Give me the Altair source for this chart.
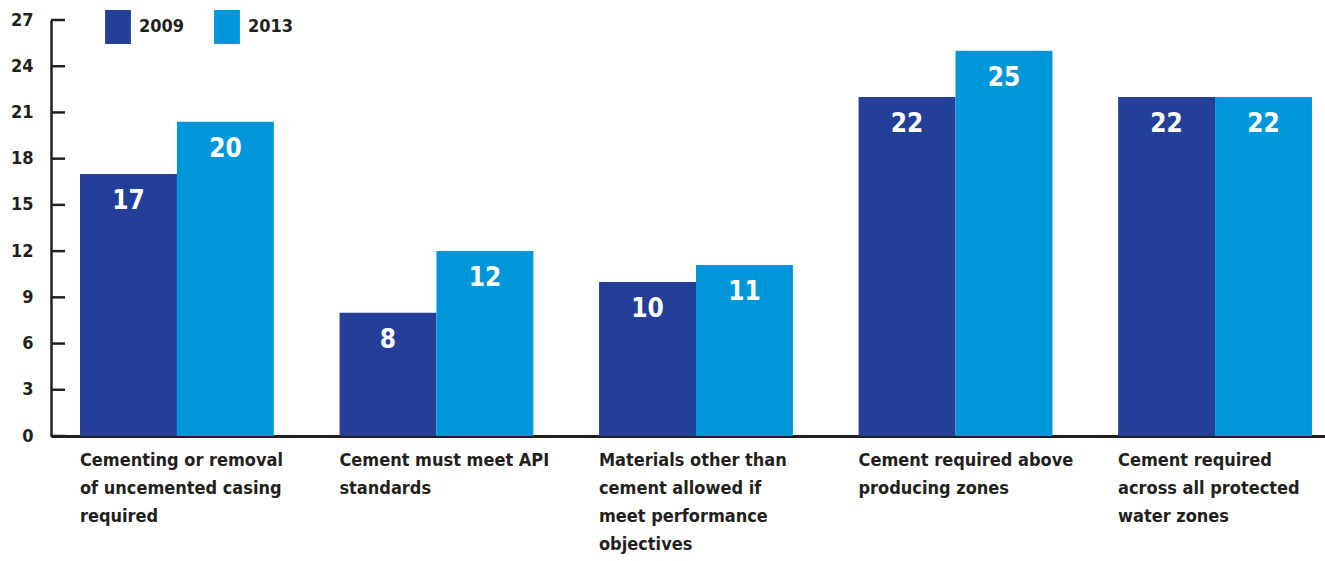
import altair as alt
import pandas as pd

categories = [
    "Cementing or removal|of uncemented casing|required",
    "Cement must meet API|standards",
    "Materials other than|cement allowed if|meet performance|objectives",
    "Cement required above|producing zones",
    "Cement required|across all protected|water zones",
]
years = ["2009", "2013"]
values_2009 = [17, 8, 10, 22, 22]
values_2013 = [20.4, 12, 11.1, 25, 22]
y_ticks = [0, 3, 6, 9, 12, 15, 18, 21, 24, 27]

rows = []
for c, a, b in zip(categories, values_2009, values_2013):
    rows.append({"category": c, "year": "2009", "value": a})
    rows.append({"category": c, "year": "2013", "value": b})
df = pd.DataFrame(rows)
ticks_df = pd.DataFrame({"t": y_ticks})

FONT = "DejaVu Sans Condensed, Liberation Sans Narrow, sans-serif"
DARK = "#231f20"

x_scale = alt.Scale(paddingInner=0.253, paddingOuter=0.081, align=0.69)
y_scale = alt.Scale(domain=[0, 27], nice=False)

x_enc = alt.X(
    "category:N",
    sort=categories,
    title=None,
    scale=x_scale,
    axis=alt.Axis(
        labelAngle=0,
        labelAlign="left",
        labelBaseline="top",
        labelOffset=-97,
        labelPadding=15,
        labelLineHeight=28,
        labelExpr="split(datum.label, '|')",
        labelFont=FONT,
        labelFontSize=18,
        labelFontWeight="bold",
        labelColor=DARK,
        labelLimit=400,
        labelOverlap=False,
        ticks=False,
        grid=False,
        domain=True,
        domainColor=DARK,
        domainWidth=3,
    ),
)
color_enc = alt.Color(
    "year:N",
    scale=alt.Scale(domain=years, range=["#233f97", "#0097da"]),
    legend=alt.Legend(
        title=None,
        orient="none",
        direction="horizontal",
        legendX=50,
        legendY=-10,
        padding=0,
        symbolType="M-0.76,-1H0.76V1H-0.76Z",
        symbolSize=1156,
        symbolStrokeWidth=0,
        symbolOpacity=1,
        labelFont=FONT,
        labelFontSize=18,
        labelFontWeight="bold",
        labelColor=DARK,
        labelOffset=4,
        columnPadding=25,
    ),
)

bars = alt.Chart(df).mark_bar(opacity=1).encode(
    x=x_enc,
    xOffset=alt.XOffset("year:N", sort=years, scale=alt.Scale(paddingInner=0, paddingOuter=0)),
    y=alt.Y(
        "value:Q",
        scale=y_scale,
        title=None,
        axis=alt.Axis(
            values=y_ticks,
            ticks=False,
            grid=False,
            domain=True,
            domainColor=DARK,
            domainWidth=2.5,
            labelFont=FONT,
            labelFontSize=18,
            labelFontWeight="bold",
            labelColor=DARK,
            labelPadding=18,
        ),
    ),
    color=color_enc,
)

labels = alt.Chart(df).mark_text(
    color="white",
    font=FONT,
    fontSize=26,
    fontWeight="bold",
    baseline="alphabetic",
    dy=35,
).encode(
    x=alt.X("category:N", sort=categories),
    xOffset=alt.XOffset("year:N", sort=years),
    y=alt.Y("value:Q"),
    text=alt.Text("value:Q", format=".0f"),
)

tick_rules = alt.Chart(ticks_df).mark_rule(color=DARK, strokeWidth=2.5).encode(
    x=alt.value(0),
    x2=alt.value(14),
    y=alt.Y("t:Q"),
)

chart = (
    alt.layer(bars, labels, tick_rules)
    .properties(
        width=1274,
        height=416,
        background="white",
        autosize=alt.AutoSizeParams(type="none"),
        padding={"left": 51, "top": 20, "right": 0, "bottom": 125},
    )
    .configure_view(stroke=None)
    .configure_axis(grid=False)
)

chart.save("out.html", embed_options={"renderer": "svg", "actions": False})
